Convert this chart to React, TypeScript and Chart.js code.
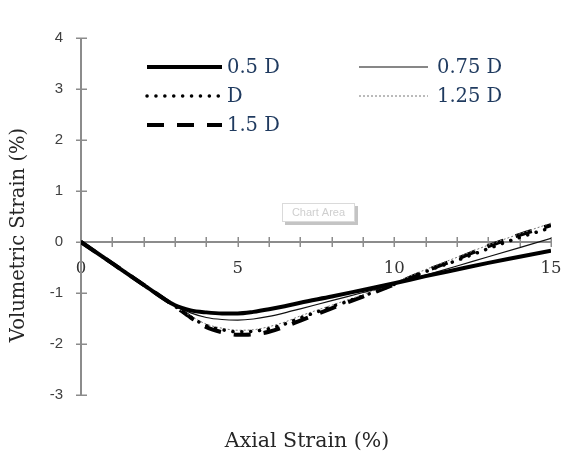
import React, { useEffect, useRef } from "react";
import { Chart, registerables } from "chart.js";

Chart.register(...registerables);

// ---- data ----
const strain = [0, 1, 2, 3, 3.5, 4, 4.5, 5, 5.5, 6, 6.5, 7, 8, 9, 10, 11, 12, 13, 14, 15];
const vol05D = [0, -0.42, -0.84, -1.24, -1.34, -1.38, -1.4, -1.4, -1.37, -1.32, -1.26, -1.19, -1.07, -0.94, -0.81, -0.67, -0.54, -0.41, -0.29, -0.17];
const vol075D = [0, -0.42, -0.84, -1.25, -1.39, -1.48, -1.52, -1.53, -1.51, -1.46, -1.39, -1.31, -1.15, -0.99, -0.83, -0.65, -0.47, -0.29, -0.11, 0.07];
const vol1D = [0, -0.42, -0.84, -1.26, -1.47, -1.64, -1.72, -1.76, -1.75, -1.7, -1.61, -1.49, -1.27, -1.06, -0.83, -0.58, -0.36, -0.13, 0.09, 0.28];
const vol125D = [0, -0.42, -0.84, -1.26, -1.45, -1.61, -1.69, -1.73, -1.72, -1.66, -1.57, -1.45, -1.24, -1.03, -0.8, -0.54, -0.3, -0.06, 0.16, 0.37];
const vol15D = [0, -0.42, -0.84, -1.26, -1.48, -1.67, -1.77, -1.82, -1.81, -1.76, -1.66, -1.54, -1.3, -1.07, -0.83, -0.57, -0.33, -0.08, 0.14, 0.33];
const seriesLabels = ["0.5 D", "0.75 D", "D", "1.25 D", "1.5 D"];
const xLabelStep = 5;
const xTitle = "Axial Strain (%)";
const yTitle = "Volumetric Strain (%)";

const SERIF = '"DejaVu Serif", Cambria, serif';
const SANS = '"Liberation Sans", Arial, sans-serif';
const AXIS_COLOR = "#8c8c8c";
const LEGEND_COLOR = "#1f3a5f";

const toPts = (ys: number[]) => strain.map((x, i) => ({ x, y: ys[i] }));

const decorPlugin = {
  id: "decor",
  beforeDatasetsDraw(chart: any) {
    const { ctx, scales } = chart;
    const x = scales.x;
    const y = scales.y;
    const x0 = x.getPixelForValue(x.min);
    const y0 = y.getPixelForValue(0);
    ctx.save();
    ctx.strokeStyle = AXIS_COLOR;
    ctx.lineWidth = 2;
    ctx.beginPath();
    ctx.moveTo(x0, y.getPixelForValue(y.max));
    ctx.lineTo(x0, y.getPixelForValue(y.min));
    ctx.moveTo(x0, y0);
    ctx.lineTo(x.getPixelForValue(x.max), y0);
    ctx.stroke();
    ctx.lineWidth = 1.5;
    ctx.beginPath();
    y.ticks.forEach((t: any) => {
      const p = Math.round(y.getPixelForValue(t.value)) + 0.25;
      ctx.moveTo(x0 - 5, p);
      ctx.lineTo(x0 + 6, p);
    });
    x.ticks.forEach((t: any) => {
      const p = Math.round(x.getPixelForValue(t.value)) + 0.25;
      ctx.moveTo(p, y0 - 5);
      ctx.lineTo(p, y0 + 5);
    });
    ctx.stroke();
    ctx.restore();
  },
  afterDraw(chart: any) {
    const { ctx } = chart;
    ctx.save();
    // axis titles
    ctx.fillStyle = "#262626";
    ctx.textAlign = "center";
    ctx.textBaseline = "middle";
    ctx.font = `20.5px ${SERIF}`;
    ctx.fillText(xTitle, 307, 442);
    ctx.save();
    ctx.font = `19.5px ${SERIF}`;
    ctx.translate(19, 235);
    ctx.rotate(-Math.PI / 2);
    ctx.fillText(yTitle, 0, 0);
    ctx.restore();

    // legend (two columns, row-major)
    const rows = [67, 96, 125];
    const cols = [
      { x1: 147, x2: 222, tx: 227 },
      { x1: 359, x2: 428, tx: 437 },
    ];
    chart.data.datasets.forEach((ds: any, i: number) => {
      const r = Math.floor(i / 2);
      const c = cols[i % 2];
      const yy = rows[r];
      ctx.save();
      ctx.strokeStyle = ds.borderColor;
      ctx.lineWidth = ds.borderWidth;
      ctx.lineCap = ds.borderCapStyle || "butt";
      ctx.setLineDash(ds.borderDash || []);
      ctx.beginPath();
      ctx.moveTo(c.x1, yy);
      ctx.lineTo(c.x2, yy);
      ctx.stroke();
      ctx.restore();
      ctx.fillStyle = LEGEND_COLOR;
      ctx.font = `19.5px ${SERIF}`;
      ctx.textAlign = "left";
      ctx.textBaseline = "middle";
      ctx.fillText(ds.label, c.tx, yy + 1);
    });

    // "Chart Area" hover label
    ctx.fillStyle = "#c4c4c4";
    ctx.fillRect(285, 206, 73, 19);
    ctx.fillStyle = "#ffffff";
    ctx.fillRect(282, 203, 73, 19);
    ctx.strokeStyle = "#dadada";
    ctx.lineWidth = 1;
    ctx.strokeRect(282.5, 203.5, 72, 18);
    ctx.fillStyle = "#cfcfcf";
    ctx.font = `11px ${SANS}`;
    ctx.textAlign = "center";
    ctx.textBaseline = "middle";
    ctx.fillText("Chart Area", 318.5, 213);
    ctx.restore();
  },
};

export default function App() {
  const ref = useRef<HTMLCanvasElement>(null);
  useEffect(() => {
    document.body.style.margin = "0";
    const chart = new Chart(ref.current as HTMLCanvasElement, {
      type: "line",
      data: {
        datasets: [
          {
            label: seriesLabels[0],
            data: toPts(vol05D),
            borderColor: "#000000",
            borderWidth: 4,
          },
          {
            label: seriesLabels[1],
            data: toPts(vol075D),
            borderColor: "#111111",
            borderWidth: 1.2,
          },
          {
            label: seriesLabels[2],
            data: toPts(vol1D),
            borderColor: "#000000",
            borderWidth: 3.5,
            borderDash: [0.1, 8.8],
            borderCapStyle: "round",
          },
          {
            label: seriesLabels[3],
            data: toPts(vol125D),
            borderColor: "#777777",
            borderWidth: 1,
            borderDash: [2, 2],
          },
          {
            label: seriesLabels[4],
            data: toPts(vol15D),
            borderColor: "#000000",
            borderWidth: 4,
            borderDash: [17, 13],
          },
        ] as any,
      },
      options: {
        responsive: false,
        animation: false,
        elements: {
          point: { radius: 0, hoverRadius: 0 },
          line: { cubicInterpolationMode: "monotone", fill: false },
        },
        layout: { padding: { top: 38, right: 12, bottom: 59, left: 0 } },
        plugins: {
          legend: { display: false },
          tooltip: { enabled: false },
        },
        scales: {
          x: {
            type: "linear",
            position: { y: 0 } as any,
            min: 0,
            max: 15,
            ticks: {
              stepSize: 1,
              autoSkip: false,
              maxRotation: 0,
              callback: (v: any) => (Number(v) % xLabelStep === 0 ? String(v) : ""),
              font: { family: SERIF, size: 16.5 },
              color: "#333333",
              padding: 9,
            },
            grid: { display: false },
            border: { display: false },
            afterFit: (s: any) => {
              s.paddingLeft = 0;
              s.paddingRight = 0;
            },
          },
          y: {
            type: "linear",
            min: -3,
            max: 4,
            ticks: {
              stepSize: 1,
              font: { family: SANS, size: 15 },
              color: "#404040",
              padding: 10,
            },
            grid: { display: false },
            border: { display: false },
            afterFit: (s: any) => {
              s.width = 81;
              s.paddingTop = 0;
              s.paddingBottom = 0;
            },
          },
        },
      },
      plugins: [decorPlugin],
    });
    return () => chart.destroy();
  }, []);
  return (
    <div style={{ width: 563, height: 454 }}>
      <canvas ref={ref} width={563} height={454} />
    </div>
  );
}
